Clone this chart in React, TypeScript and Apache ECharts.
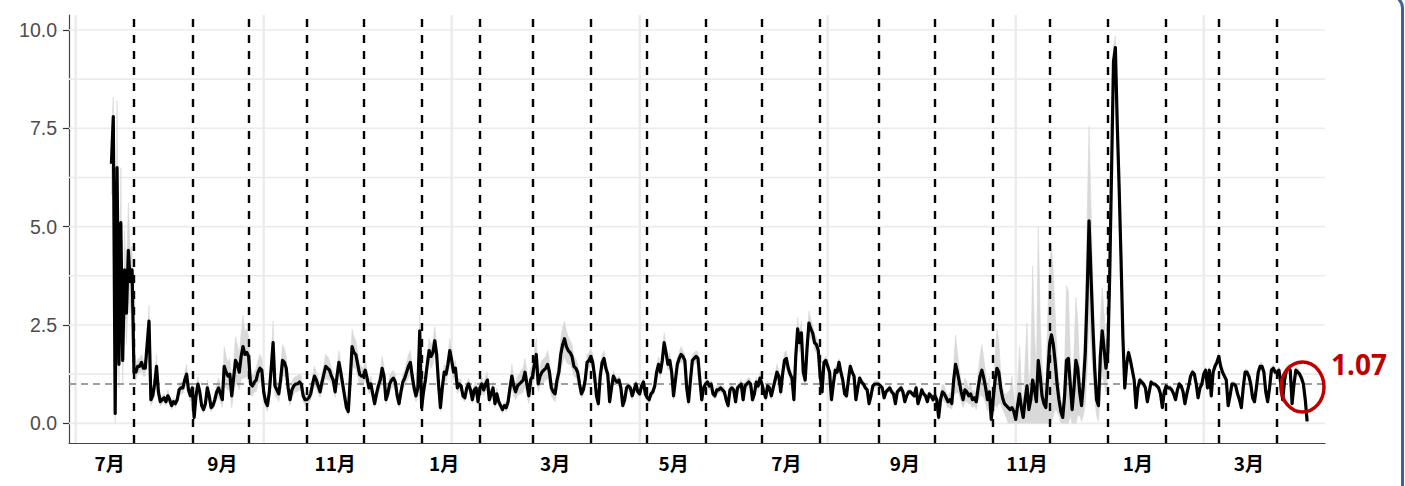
import React, { useEffect, useRef } from "react";
import * as echarts from "echarts";

const DAY = 86400000;
const originDate = "2020-07-01";
const firstDate = "2020-07-20";

// Daily effective reproduction number, month by month
const rtJul2020 = [6.6, 7.8, 0.25, 6.5, 1.5, 5.1, 1.6, 3.9, 2.8, 4.4, 3.6, 3.9];
const rtAug2020 = [1.3, 1.3, 1.45, 1.45, 1.55, 1.4, 1.4, 2.0, 2.6, 0.6, 0.7, 1.0, 1.45, 0.8, 0.55, 0.6, 0.65, 0.55, 0.7, 0.6, 0.45, 0.55, 0.5, 0.6, 0.85, 0.9, 0.9, 1.1, 1.25, 0.85, 0.7];
const rtSep2020 = [0.9, 0.15, 0.7, 1.0, 0.8, 0.45, 0.35, 0.5, 0.9, 0.7, 0.4, 0.45, 0.6, 0.8, 0.9, 0.75, 0.6, 1.45, 1.3, 1.2, 1.25, 0.7, 1.15, 1.6, 1.5, 1.3, 1.7, 1.95, 1.75, 1.8];
const rtOct2020 = [1.7, 1.0, 0.95, 1.05, 1.1, 1.3, 1.4, 1.35, 0.8, 0.55, 0.45, 0.8, 1.4, 2.05, 0.95, 0.85, 0.75, 1.1, 1.6, 1.55, 1.4, 0.9, 0.6, 0.85, 0.95, 1.0, 1.0, 1.05, 1.0, 0.7, 0.6];
const rtNov2020 = [0.6, 0.65, 0.75, 1.0, 1.2, 1.1, 0.95, 0.8, 1.05, 1.25, 1.45, 1.4, 1.35, 1.2, 1.1, 0.8, 1.2, 1.55, 1.3, 1.0, 0.7, 0.4, 0.3, 1.1, 1.95, 1.8, 1.75, 1.5, 1.25, 1.2];
const rtDec2020 = [1.2, 1.35, 1.15, 0.9, 1.0, 0.75, 0.5, 0.75, 0.95, 1.1, 1.4, 1.2, 0.6, 0.75, 1.0, 1.1, 1.15, 1.05, 0.7, 0.5, 0.8, 1.05, 1.15, 1.3, 1.45, 1.55, 1.2, 0.9, 0.7, 0.9, 2.35];
const rtJan2021 = [0.4, 0.8, 1.1, 1.5, 1.85, 1.7, 1.8, 2.1, 1.75, 1.0, 0.4, 0.9, 1.3, 1.25, 1.5, 1.85, 1.6, 1.3, 1.4, 0.9, 1.0, 0.95, 0.7, 0.65, 0.9, 1.0, 0.85, 0.6, 0.85, 0.9, 0.55];
const rtFeb2021 = [0.9, 1.0, 0.85, 1.0, 1.1, 0.6, 0.75, 0.9, 0.5, 0.75, 0.55, 0.45, 0.35, 0.45, 0.4, 0.55, 0.9, 1.2, 0.95, 0.8, 0.95, 1.0, 1.05, 1.1, 1.3, 1.0, 0.7, 1.1];
const rtMar2021 = [1.2, 1.5, 1.75, 1.0, 1.2, 1.3, 1.35, 1.4, 1.5, 1.3, 0.9, 0.8, 0.75, 1.1, 1.3, 1.75, 2.0, 2.15, 1.95, 1.85, 1.8, 1.7, 1.45, 1.4, 1.3, 1.0, 0.75, 0.85, 1.1, 1.55, 1.6];
const rtApr2021 = [1.7, 1.55, 1.2, 0.7, 0.5, 1.2, 1.55, 1.65, 1.4, 1.25, 0.55, 0.9, 1.2, 1.1, 1.05, 1.1, 0.9, 0.45, 0.6, 0.9, 0.95, 0.9, 0.7, 0.85, 1.0, 0.8, 0.75, 0.95, 1.05, 0.75];
const rtMay2021 = [0.65, 0.6, 0.75, 0.8, 0.95, 1.3, 1.5, 1.3, 1.6, 2.05, 1.8, 1.5, 1.6, 1.3, 0.7, 1.1, 1.5, 1.65, 1.75, 1.7, 1.6, 0.9, 0.55, 1.1, 1.6, 1.65, 1.7, 1.65, 1.1, 0.6, 0.9];
const rtJun2021 = [1.0, 1.05, 0.95, 1.0, 0.75, 0.7, 0.85, 0.85, 0.9, 0.85, 0.8, 0.6, 0.45, 0.85, 0.9, 0.85, 0.55, 0.9, 0.95, 1.0, 0.6, 0.95, 1.0, 1.05, 1.0, 0.6, 0.75, 1.05, 0.95, 1.15];
const rtJul2021 = [1.0, 0.8, 0.65, 0.95, 0.9, 0.7, 0.9, 1.1, 1.3, 1.2, 0.8, 1.25, 1.6, 1.65, 1.4, 1.25, 1.15, 0.6, 1.7, 2.4, 2.05, 2.3, 1.3, 1.1, 1.9, 2.55, 2.4, 2.3, 2.05, 2.0, 1.85];
const rtAug2021 = [1.2, 0.8, 1.55, 1.6, 1.45, 1.3, 0.6, 1.0, 1.35, 1.3, 1.55, 1.3, 1.1, 0.75, 0.7, 1.1, 1.45, 1.3, 1.2, 0.6, 0.9, 1.15, 1.05, 1.0, 0.9, 0.85, 0.5, 0.7, 0.95, 1.0, 1.0];
const rtSep2021 = [1.0, 0.95, 0.9, 0.65, 0.8, 0.85, 0.9, 0.8, 0.75, 0.5, 0.8, 0.85, 0.9, 0.8, 0.55, 0.7, 0.8, 0.8, 0.75, 0.7, 0.9, 0.5, 0.65, 0.85, 0.75, 0.7, 0.55, 0.75, 0.7, 0.6];
const rtOct2021 = [0.7, 0.6, 0.15, 0.6, 0.8, 0.75, 0.65, 0.55, 0.6, 0.5, 1.1, 1.5, 1.3, 1.05, 0.8, 0.6, 0.85, 0.8, 0.7, 0.75, 0.6, 0.65, 0.55, 0.9, 1.2, 1.35, 1.15, 0.9, 0.6, 0.8, 0.1];
const rtNov2021 = [0.6, 1.1, 1.4, 1.3, 0.9, 0.65, 0.5, 0.45, 0.4, 0.35, 0.4, 0.3, 0.1, 0.45, 0.75, 0.4, 0.15, 0.6, 0.95, 0.35, 0.6, 1.1, 0.85, 0.55, 1.6, 1.2, 0.7, 0.5, 0.4, 1.2];
const rtDec2021 = [2.0, 2.25, 2.0, 1.55, 1.0, 0.6, 0.3, 0.15, 0.7, 1.6, 1.65, 1.0, 0.35, 0.9, 1.6, 1.4, 0.8, 0.45, 1.0, 1.8, 3.3, 5.15, 3.8, 2.5, 1.4, 0.6, 0.45, 1.7, 2.35, 1.9, 1.4];
const rtJan2022 = [1.8, 3.8, 6.5, 9.2, 9.55, 7.6, 6.0, 4.2, 2.2, 0.9, 1.5, 1.8, 1.6, 1.35, 1.1, 0.4, 0.9, 1.1, 1.05, 1.0, 0.9, 0.55, 0.8, 1.05, 1.0, 1.0, 0.95, 0.9, 0.75, 0.4, 0.8];
const rtFeb2022 = [0.95, 0.9, 0.9, 0.85, 0.75, 0.6, 0.85, 1.0, 0.95, 0.8, 0.5, 0.75, 0.95, 1.2, 1.3, 1.25, 1.0, 0.65, 0.9, 1.0, 1.25, 1.35, 0.9, 1.35, 0.7, 1.3, 1.45, 1.55];
const rtMar2022 = [1.7, 1.45, 1.3, 1.2, 1.1, 0.45, 0.7, 1.0, 1.0, 0.95, 0.75, 0.6, 0.4, 0.9, 1.3, 1.3, 1.2, 1.0, 0.65, 0.55, 0.9, 1.3, 1.45, 1.45, 1.3, 0.8, 0.55, 0.9, 1.35, 1.4, 1.3];
const rtApr2022 = [1.3, 1.35, 1.0, 0.6, 1.1, 1.35, 1.4, 1.35, 0.5, 1.0, 1.35, 1.3, 1.25, 1.15, 1.0, 0.6, 0.05];

// Half-width of the credible interval, month by month
const ciJul2020 = [0.8, 0.5, 0.3, 1.7, 0.6, 1.4, 0.6, 1.0, 0.8, 1.2, 0.8, 0.6];
const ciAug2020 = [0.2, 0.2, 0.2, 0.2, 0.2, 0.2, 0.2, 0.3, 0.4, 0.15, 0.15, 0.2, 0.3, 0.15, 0.1, 0.1, 0.1, 0.1, 0.15, 0.1, 0.1, 0.1, 0.1, 0.1, 0.15, 0.15, 0.15, 0.2, 0.25, 0.15, 0.15];
const ciSep2020 = [0.15, 0.1, 0.15, 0.2, 0.15, 0.1, 0.1, 0.1, 0.2, 0.15, 0.1, 0.1, 0.15, 0.2, 0.25, 0.2, 0.2, 0.5, 0.4, 0.35, 0.4, 0.3, 0.4, 0.6, 0.5, 0.45, 0.6, 0.8, 0.6, 0.6];
const ciOct2020 = [0.5, 0.3, 0.25, 0.25, 0.3, 0.3, 0.35, 0.3, 0.2, 0.15, 0.15, 0.2, 0.35, 0.55, 0.25, 0.2, 0.2, 0.3, 0.4, 0.35, 0.3, 0.2, 0.15, 0.2, 0.2, 0.2, 0.2, 0.2, 0.2, 0.15, 0.15];
const ciNov2020 = [0.15, 0.15, 0.15, 0.2, 0.25, 0.2, 0.2, 0.15, 0.2, 0.25, 0.3, 0.3, 0.25, 0.2, 0.2, 0.15, 0.25, 0.3, 0.25, 0.2, 0.15, 0.1, 0.1, 0.25, 0.45, 0.4, 0.35, 0.3, 0.25, 0.25];
const ciDec2020 = [0.2, 0.25, 0.2, 0.15, 0.2, 0.15, 0.1, 0.15, 0.2, 0.2, 0.3, 0.25, 0.1, 0.15, 0.2, 0.2, 0.2, 0.2, 0.15, 0.1, 0.15, 0.2, 0.2, 0.25, 0.3, 0.3, 0.25, 0.2, 0.15, 0.2, 0.45];
const ciJan2021 = [0.1, 0.15, 0.2, 0.25, 0.3, 0.3, 0.3, 0.35, 0.3, 0.2, 0.1, 0.15, 0.2, 0.2, 0.25, 0.3, 0.25, 0.2, 0.2, 0.15, 0.15, 0.15, 0.1, 0.1, 0.15, 0.15, 0.15, 0.1, 0.15, 0.15, 0.1];
const ciFeb2021 = [0.15, 0.2, 0.15, 0.2, 0.2, 0.1, 0.15, 0.15, 0.1, 0.15, 0.1, 0.1, 0.1, 0.1, 0.1, 0.15, 0.2, 0.3, 0.25, 0.2, 0.25, 0.25, 0.3, 0.3, 0.35, 0.3, 0.2, 0.3];
const ciMar2021 = [0.3, 0.35, 0.4, 0.2, 0.25, 0.3, 0.3, 0.3, 0.35, 0.3, 0.2, 0.2, 0.2, 0.25, 0.3, 0.4, 0.45, 0.45, 0.4, 0.35, 0.3, 0.3, 0.25, 0.25, 0.2, 0.15, 0.1, 0.15, 0.15, 0.2, 0.2];
const ciApr2021 = [0.2, 0.2, 0.15, 0.1, 0.1, 0.15, 0.2, 0.2, 0.15, 0.15, 0.1, 0.1, 0.15, 0.1, 0.1, 0.1, 0.1, 0.05, 0.1, 0.1, 0.1, 0.1, 0.1, 0.1, 0.1, 0.1, 0.1, 0.1, 0.1, 0.1];
const ciMay2021 = [0.1, 0.1, 0.1, 0.1, 0.1, 0.15, 0.2, 0.15, 0.2, 0.25, 0.2, 0.15, 0.2, 0.15, 0.1, 0.1, 0.15, 0.15, 0.2, 0.15, 0.15, 0.1, 0.1, 0.1, 0.15, 0.15, 0.15, 0.15, 0.1, 0.1, 0.1];
const ciJun2021 = [0.1, 0.1, 0.1, 0.1, 0.08, 0.08, 0.1, 0.1, 0.1, 0.1, 0.1, 0.08, 0.08, 0.1, 0.1, 0.1, 0.08, 0.1, 0.1, 0.12, 0.08, 0.12, 0.12, 0.12, 0.12, 0.08, 0.1, 0.12, 0.12, 0.15];
const ciJul2021 = [0.12, 0.1, 0.08, 0.12, 0.12, 0.1, 0.12, 0.15, 0.2, 0.15, 0.1, 0.15, 0.2, 0.2, 0.15, 0.15, 0.15, 0.1, 0.2, 0.3, 0.25, 0.3, 0.15, 0.15, 0.2, 0.3, 0.25, 0.2, 0.2, 0.2, 0.15];
const ciAug2021 = [0.1, 0.08, 0.1, 0.1, 0.1, 0.1, 0.05, 0.08, 0.1, 0.1, 0.1, 0.1, 0.08, 0.06, 0.06, 0.08, 0.1, 0.08, 0.08, 0.05, 0.06, 0.08, 0.08, 0.08, 0.08, 0.06, 0.05, 0.06, 0.08, 0.08, 0.08];
const ciSep2021 = [0.08, 0.08, 0.08, 0.06, 0.07, 0.08, 0.08, 0.07, 0.07, 0.05, 0.07, 0.08, 0.08, 0.07, 0.05, 0.06, 0.07, 0.07, 0.07, 0.06, 0.08, 0.05, 0.06, 0.08, 0.07, 0.07, 0.05, 0.07, 0.07, 0.06];
const ciOct2021 = [0.15, 0.15, 0.1, 0.15, 0.2, 0.2, 0.15, 0.15, 0.2, 0.15, 0.4, 0.75, 0.5, 0.35, 0.25, 0.2, 0.3, 0.25, 0.2, 0.25, 0.2, 0.2, 0.2, 0.35, 0.5, 0.65, 0.5, 0.4, 0.3, 0.4, 0.1];
const ciNov2021 = [0.3, 0.6, 1.0, 0.8, 0.4, 0.3, 0.25, 0.3, 0.4, 0.5, 0.8, 0.4, 0.2, 0.6, 1.2, 0.6, 0.3, 1.0, 1.6, 0.5, 0.9, 2.9, 1.4, 0.8, 3.4, 1.5, 0.7, 0.5, 0.5, 1.5];
const ciDec2021 = [2.0, 2.3, 1.8, 1.2, 0.7, 0.4, 0.3, 0.2, 0.8, 1.9, 1.7, 0.8, 0.4, 0.9, 1.6, 1.2, 0.6, 0.4, 0.8, 1.3, 2.0, 2.4, 1.8, 1.2, 0.8, 0.4, 0.4, 0.9, 1.1, 0.9, 0.6];
const ciJan2022 = [0.5, 0.5, 0.5, 0.4, 0.3, 0.3, 0.3, 0.2, 0.15, 0.08, 0.1, 0.12, 0.1, 0.1, 0.08, 0.05, 0.06, 0.08, 0.08, 0.08, 0.06, 0.05, 0.06, 0.06, 0.06, 0.06, 0.06, 0.06, 0.05, 0.05, 0.05];
const ciFeb2022 = [0.06, 0.06, 0.06, 0.06, 0.05, 0.05, 0.06, 0.07, 0.06, 0.06, 0.05, 0.05, 0.06, 0.07, 0.08, 0.08, 0.07, 0.05, 0.06, 0.07, 0.08, 0.08, 0.06, 0.08, 0.05, 0.08, 0.09, 0.1];
const ciMar2022 = [0.1, 0.09, 0.08, 0.08, 0.07, 0.04, 0.05, 0.07, 0.07, 0.07, 0.05, 0.05, 0.04, 0.06, 0.08, 0.08, 0.08, 0.07, 0.05, 0.04, 0.06, 0.08, 0.09, 0.09, 0.08, 0.06, 0.05, 0.06, 0.08, 0.09, 0.08];
const ciApr2022 = [0.08, 0.09, 0.07, 0.05, 0.08, 0.1, 0.1, 0.1, 0.05, 0.08, 0.1, 0.1, 0.1, 0.1, 0.1, 0.08, 0.05];

// Axis / reference data
const monthBoundaries = [
  "2020-08-01", "2020-09-01", "2020-10-01", "2020-11-01", "2020-12-01",
  "2021-01-01", "2021-02-01", "2021-03-01", "2021-04-01", "2021-05-01", "2021-06-01",
  "2021-07-01", "2021-08-01", "2021-09-01", "2021-10-01", "2021-11-01", "2021-12-01",
  "2022-01-01", "2022-02-01", "2022-03-01", "2022-04-01",
];
const monthLabelDates = [
  "2020-07-19", "2020-09-17", "2020-11-16", "2021-01-13", "2021-03-13", "2021-05-15",
  "2021-07-14", "2021-09-15", "2021-11-19", "2022-01-17", "2022-03-17",
];
const xGridDates = ["2020-07-01", "2020-10-09", "2021-01-17", "2021-04-27", "2021-08-05", "2021-11-13", "2022-02-21"];
const yTickValues = [0, 2.5, 5, 7.5, 10];
const yGridValues = [0, 1.25, 2.5, 3.75, 5, 6.25, 7.5, 8.75, 10];
const thresholdValue = 1;
const latestLabel = "1.07";

// x axis is measured in days since originDate
const X_MIN = -3.56;
const X_MAX = 664.5;
const Y_MIN = -0.5;
const Y_MAX = 10.38;

const ORIGIN = Date.parse(originDate);
const toDay = (d: string) => Math.round((Date.parse(d) - ORIGIN) / DAY);

function buildOption() {
  const rtAll = [
    rtJul2020, rtAug2020, rtSep2020, rtOct2020, rtNov2020, rtDec2020,
    rtJan2021, rtFeb2021, rtMar2021, rtApr2021, rtMay2021, rtJun2021,
    rtJul2021, rtAug2021, rtSep2021, rtOct2021, rtNov2021, rtDec2021,
    rtJan2022, rtFeb2022, rtMar2022, rtApr2022,
  ].flat();
  const ciAll = [
    ciJul2020, ciAug2020, ciSep2020, ciOct2020, ciNov2020, ciDec2020,
    ciJan2021, ciFeb2021, ciMar2021, ciApr2021, ciMay2021, ciJun2021,
    ciJul2021, ciAug2021, ciSep2021, ciOct2021, ciNov2021, ciDec2021,
    ciJan2022, ciFeb2022, ciMar2022, ciApr2022,
  ].flat();
  const d0 = toDay(firstDate);
  const lineData = rtAll.map((v, i) => [d0 + i, v]);
  const bandUpper = rtAll.map((v, i) => [d0 + i, v + (ciAll[i] ?? 0.05)]);
  const bandLower = rtAll.map((v, i) => [d0 + i, Math.max(0, v - (ciAll[i] ?? 0.05))]);

  const hGrid = yGridValues.map((v) => ({
    type: "line",
    data: [[X_MIN, v], [X_MAX, v]],
    symbol: "none",
    silent: true,
    z: 0,
    lineStyle: { color: "#ebebeb", width: 1.6 },
  }));
  const vGrid = xGridDates.map((d) => ({
    type: "line",
    data: [[toDay(d), Y_MIN], [toDay(d), Y_MAX]],
    symbol: "none",
    silent: true,
    z: 0,
    lineStyle: { color: "#ebebeb", width: 2.4 },
  }));

  return {
    animation: false,
    backgroundColor: "#ffffff",
    grid: { left: 69, right: 80, top: 15, bottom: 43, containLabel: false, outerBoundsMode: "none" },
    xAxis: {
      type: "value",
      min: X_MIN,
      max: X_MAX,
      axisLine: { show: true, onZero: false, lineStyle: { color: "#444", width: 1.2 } },
      axisTick: { show: false },
      splitLine: { show: false },
      axisLabel: {
        customValues: monthLabelDates.map(toDay),
        formatter: (v: number) => `${new Date(ORIGIN + v * DAY).getUTCMonth() + 1}月`,
        color: "#000",
        fontSize: 19,
        fontWeight: "bold",
        fontFamily: '"Noto Sans CJK JP", sans-serif',
        margin: 10,
        hideOverlap: false,
        showMinLabel: true,
        showMaxLabel: true,
      },
    },
    yAxis: {
      type: "value",
      min: Y_MIN,
      max: Y_MAX,
      axisLine: { show: true, onZero: false, lineStyle: { color: "#444", width: 1.2 } },
      axisTick: { show: true, customValues: yTickValues, length: 6, lineStyle: { color: "#333", width: 1.2 } },
      splitLine: { show: false },
      axisLabel: {
        customValues: yTickValues,
        formatter: (v: number) => v.toFixed(1),
        color: "#4d4d4d",
        fontSize: 19.5,
        fontFamily: '"Liberation Sans", Arial, sans-serif',
        margin: 12,
      },
    },
    series: [
      ...hGrid,
      ...vGrid,
      {
        name: "band",
        type: "custom",
        coordinateSystem: "cartesian2d",
        data: [[d0, 0]],
        silent: true,
        clip: true,
        z: 1,
        renderItem: (_params: any, api: any) => {
          const pts: number[][] = [];
          for (const p of bandUpper) pts.push(api.coord(p));
          for (let i = bandLower.length - 1; i >= 0; i--) pts.push(api.coord(bandLower[i]));
          return {
            type: "polygon",
            shape: { points: pts },
            style: { fill: "#d9d9d9", stroke: "#d9d9d9", lineWidth: 0.6 },
          };
        },
      },
      {
        name: "threshold",
        type: "line",
        data: [[X_MIN, thresholdValue], [X_MAX, thresholdValue]],
        symbol: "none",
        silent: true,
        z: 2,
        lineStyle: { color: "#808080", width: 1.6, type: [7, 5] },
      },
      {
        name: "Rt",
        type: "line",
        data: lineData,
        symbol: "none",
        silent: true,
        z: 3,
        lineStyle: { color: "#000", width: 3.2, join: "round" },
        markLine: {
          silent: true,
          symbol: ["none", "none"],
          label: { show: false },
          lineStyle: { color: "#000", width: 2.4, type: [8, 8] },
          data: monthBoundaries.map((d) => ({ xAxis: toDay(d) })),
        },
      },
    ],
    graphic: [
      {
        type: "rect",
        z: 100,
        silent: true,
        shape: { x: -50, y: -4, width: 1452.5, height: 600, r: 12 },
        style: { fill: "none", stroke: "#41609a", lineWidth: 3 },
      },
      {
        type: "ellipse",
        z: 100,
        silent: true,
        shape: { cx: 1302.5, cy: 387, rx: 21.5, ry: 25 },
        style: { fill: "none", stroke: "#c00000", lineWidth: 3.5 },
      },
      {
        type: "text",
        z: 100,
        silent: true,
        x: 1331,
        y: 364,
        style: {
          text: latestLabel,
          fill: "#c00000",
          fontSize: 28,
          fontWeight: "bold",
          fontFamily: '"Noto Sans", sans-serif',
          verticalAlign: "middle",
          align: "left",
        },
      },
    ],
  };
}

export default function App() {
  const ref = useRef<HTMLDivElement>(null);
  useEffect(() => {
    if (!ref.current) return;
    const chart = echarts.init(ref.current, null, { renderer: "svg" });
    chart.setOption(buildOption() as any);
    return () => chart.dispose();
  }, []);
  return (
    <div
      ref={ref}
      style={{ position: "absolute", left: 0, top: 0, width: 1405, height: 486 }}
    />
  );
}
